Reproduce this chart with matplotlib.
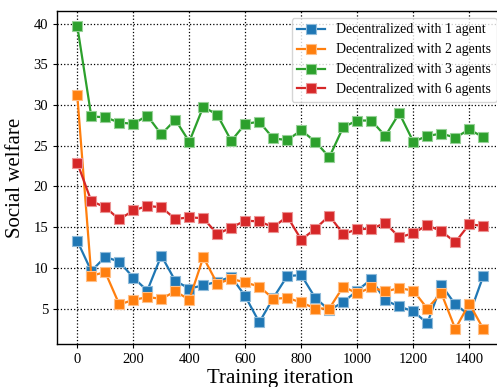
import matplotlib.pyplot as plt
import matplotlib.colors as mcolors
import numpy as np

plt.rcParams['font.family'] = ['Liberation Serif', 'DejaVu Serif']

iterations = np.arange(0, 1500, 50)

welfare_1 = [13.3, 9.6, 11.35, 10.75, 8.8, 7.2, 11.5, 8.4, 7.45, 7.85,
             8.3, 8.9, 6.5, 3.3, 6.3, 9.0, 9.1, 6.3, 4.8, 5.8,
             7.2, 8.6, 6.0, 5.25, 4.65, 3.2, 7.9, 5.5, 4.2, 9.0]
welfare_2 = [31.2, 9.05, 9.45, 5.5, 6.05, 6.4, 6.2, 7.1, 6.1, 11.3,
             8.05, 8.65, 8.2, 7.7, 6.2, 6.3, 5.75, 5.0, 5.0, 7.7,
             6.85, 7.6, 7.1, 7.5, 7.2, 5.0, 6.9, 2.5, 5.6, 2.5]
welfare_3 = [39.7, 28.6, 28.5, 27.85, 27.7, 28.7, 26.4, 28.2, 25.5, 29.8,
             28.8, 25.6, 27.7, 27.95, 25.9, 25.7, 26.9, 25.5, 23.6, 27.3,
             28.1, 28.1, 26.2, 29.0, 25.5, 26.2, 26.5, 26.0, 27.0, 26.05]
welfare_6 = [22.9, 18.2, 17.45, 15.95, 17.05, 17.6, 17.45, 16.0, 16.2, 16.1,
             14.15, 14.95, 15.8, 15.7, 15.0, 16.3, 13.45, 14.8, 16.4, 14.15,
             14.75, 14.8, 15.5, 13.75, 14.25, 15.25, 14.5, 13.15, 15.35, 15.15]

labels = ['Decentralized with 1 agent', 'Decentralized with 2 agents',
          'Decentralized with 3 agents', 'Decentralized with 6 agents']
colors = ['#1f77b4', '#ff7f0e', '#2ca02c', '#d62728']

fig = plt.figure(figsize=(4.97, 3.87), dpi=100)
ax = fig.add_axes([57 / 497, 43 / 387, 446.6 / 497, 333 / 387])

for vals, label, c in zip([welfare_1, welfare_2, welfare_3, welfare_6], labels, colors):
    rgb = np.array(mcolors.to_rgb(c))
    edge = 0.5 * rgb + 0.5
    ax.plot(iterations, vals, '-s', color=c, label=label, linewidth=1.6,
            markersize=6.5, markeredgecolor=edge, markeredgewidth=0.8)

ax.grid(True, linestyle=':', color='k', linewidth=0.9)
ax.set_xticks([0, 200, 400, 600, 800, 1000, 1200, 1400])
ax.set_yticks([5, 10, 15, 20, 25, 30, 35, 40])
ax.tick_params(labelsize=10.5, length=3, color='k')
for s in ax.spines.values():
    s.set_color('k')
    s.set_linewidth(1.0)

ax.set_xlabel('Training iteration', fontsize=15, labelpad=2)
ax.set_ylabel('Social welfare', fontsize=15, labelpad=6)

leg = ax.legend(loc='upper right', fontsize=10, handlelength=2.0,
                borderpad=0.4, labelspacing=0.5)
leg.get_frame().set_edgecolor('#cccccc')

fig.savefig('out.png', dpi=100)
